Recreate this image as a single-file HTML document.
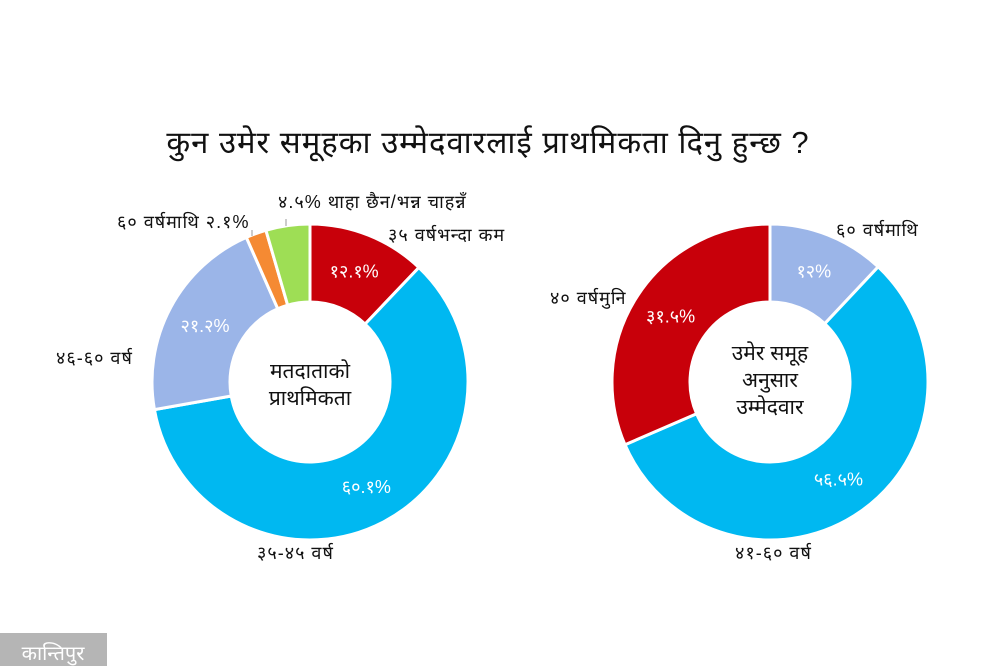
<!DOCTYPE html>
<html><head><meta charset="utf-8">
<style>
body{margin:0;background:#fff;}
svg text{font-family:"Liberation Sans","DejaVu Sans",sans-serif;}
</style></head><body>
<svg width="999" height="666" viewBox="0 0 999 666">
<text x="488" y="153" text-anchor="middle" font-size="31" fill="#111" letter-spacing="1">कुन उमेर समूहका उम्मेदवारलाई प्राथमिकता दिनु हुन्छ ?</text>
<g id="left"></g>
<g id="right"></g>
<text x="310" y="378" text-anchor="middle" font-size="21" fill="#111">मतदाताको</text>
<text x="310" y="405" text-anchor="middle" font-size="21" fill="#111">प्राथमिकता</text>
<text x="770" y="360" text-anchor="middle" font-size="21" fill="#111">उमेर समूह</text>
<text x="770" y="387" text-anchor="middle" font-size="21" fill="#111">अनुसार</text>
<text x="770" y="414" text-anchor="middle" font-size="21" fill="#111">उम्मेदवार</text>
<text x="388" y="241" font-size="18" letter-spacing="1" fill="#111">३५ वर्षभन्दा कम</text>
<text x="278" y="208" font-size="18" letter-spacing="1" fill="#111">४.५% थाहा छैन/भन्न चाहन्नँ</text>
<text x="117" y="228" font-size="18" letter-spacing="1" fill="#111">६० वर्षमाथि २.१%</text>
<line x1="252" y1="230" x2="252" y2="236" stroke="#999"/>
<line x1="286" y1="219" x2="286" y2="226" stroke="#999"/>
<text x="56" y="364" font-size="18" letter-spacing="1" fill="#111">४६-६० वर्ष</text>
<text x="257" y="559" font-size="18" letter-spacing="1" fill="#111">३५-४५ वर्ष</text>
<text x="836" y="236" font-size="18" letter-spacing="1" fill="#111">६० वर्षमाथि</text>
<text x="550" y="304" font-size="18" letter-spacing="1" fill="#111">४० वर्षमुनि</text>
<text x="735" y="559" font-size="18" letter-spacing="1" fill="#111">४१-६० वर्ष</text>
<rect x="0" y="633" width="107" height="33" fill="#b5b5b5"/>
<text x="53" y="660" text-anchor="middle" font-size="20" fill="#fff">कान्तिपुर</text>
</svg>
<script>
const leftNames=["35 below","35-45","46-60","60+","dont know"];
const leftValues=[12.1,60.1,21.2,2.1,4.5];
const leftLabels=["१२.१%","६०.१%","२१.२%","",""];
const leftColors=["#c8000a","#00b8f1","#9bb5e8","#f58a33","#9ede55"];
const rightNames=["60+","41-60","under 40"];
const rightValues=[12,56.5,31.5];
const rightLabels=["१२%","५६.५%","३१.५%"];
const rightColors=["#9bb5e8","#00b8f1","#c8000a"];
const NS="http://www.w3.org/2000/svg";
function donut(gid,cx,cy,R,r,vals,cols,labs,names){
  const g=document.getElementById(gid);
  const tot=vals.reduce((a,b)=>a+b,0);
  let a0=0;
  vals.forEach((v,i)=>{
    const a1=a0+v/tot*2*Math.PI;
    const p=(a,rad)=>[cx+rad*Math.sin(a),cy-rad*Math.cos(a)];
    const [x1,y1]=p(a0,R),[x2,y2]=p(a1,R),[x3,y3]=p(a1,r),[x4,y4]=p(a0,r);
    const lg=(a1-a0)>Math.PI?1:0;
    const path=document.createElementNS(NS,"path");
    path.setAttribute("d",`M${x1},${y1}A${R},${R} 0 ${lg} 1 ${x2},${y2}L${x3},${y3}A${r},${r} 0 ${lg} 0 ${x4},${y4}Z`);
    path.setAttribute("fill",cols[i]);
    path.setAttribute("stroke","#fff");
    path.setAttribute("stroke-width","3");
    
    
    g.appendChild(path);
    if(labs[i]){
      const am=(a0+a1)/2,[tx,ty]=p(am,(R+r)/2);
      const t=document.createElementNS(NS,"text");
      t.setAttribute("x",tx);t.setAttribute("y",ty+6);
      t.setAttribute("text-anchor","middle");t.setAttribute("font-size","18");
      t.setAttribute("fill","#fff");t.textContent=labs[i];
      
      
      g.appendChild(t);
    }
    a0=a1;
  });
}
donut("left",310,382,158,80,leftValues,leftColors,leftLabels,leftNames);
donut("right",770,382,158,80,rightValues,rightColors,rightLabels,rightNames);
</script>
</body></html>
